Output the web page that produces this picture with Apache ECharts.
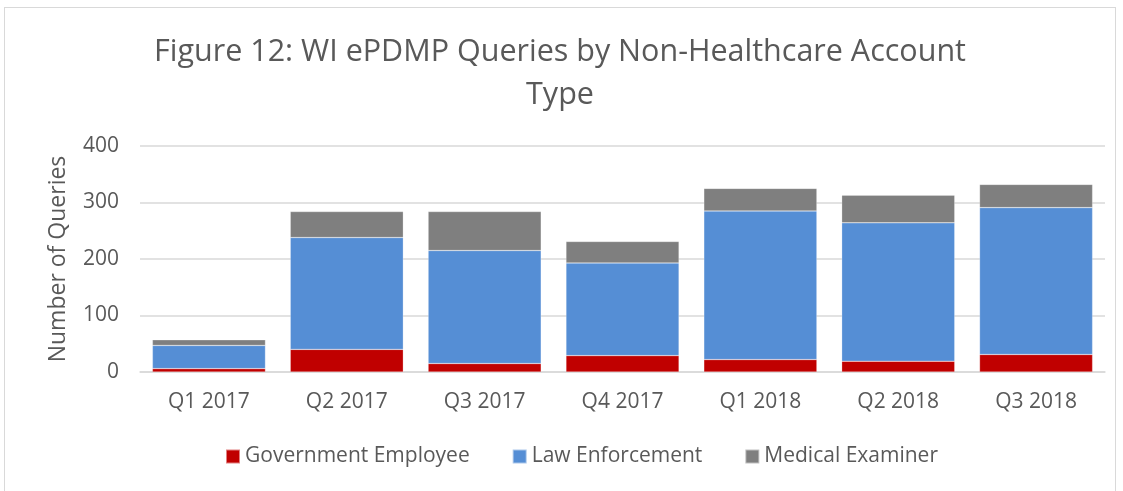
<!DOCTYPE html>
<html>
<head>
<meta charset="utf-8">
<script src="https://cdn.jsdelivr.net/npm/echarts@6/dist/echarts.min.js"></script>
<style>
  html, body { margin: 0; padding: 0; background: #fff; }
  #box { position: absolute; left: 4px; top: 7px; width: 1112px; height: 490px; border: 1px solid #d9d9d9; border-bottom: none; box-sizing: border-box; }
  #chart { position: absolute; left: 0; top: 0; width: 1123px; height: 491px; }
</style>
</head>
<body>
<div id="box"></div>
<div id="chart"></div>
<script>
const quarters = ['Q1 2017', 'Q2 2017', 'Q3 2017', 'Q4 2017', 'Q1 2018', 'Q2 2018', 'Q3 2018']
const govEmployee = [6, 40, 15, 29, 22, 19, 31]
const lawEnforcement = [41, 198, 200, 164, 263, 245, 260]
const medicalExaminer = [10, 46, 69, 38, 40, 49, 41]
const yTicks = [0, 100, 200, 300, 400]

const FONT = '"Open Sans", "Noto Sans", sans-serif'
const TXT = '#595959'

const SRC = [
  { name: 'Government Employee', data: govEmployee, color: '#c00000' },
  { name: 'Law Enforcement', data: lawEnforcement, color: '#558ed5' },
  { name: 'Medical Examiner', data: medicalExaminer, color: '#7f7f7f' },
]

const chart = echarts.init(document.getElementById('chart'))
chart.setOption({
  animation: false,
  textStyle: { fontFamily: FONT },
  title: {
    text: 'Figure 12: WI ePDMP Queries by Non-Healthcare Account\nType',
    left: 555, top: 26, textAlign: 'center',
    textStyle: { fontFamily: FONT, fontSize: 30.5, fontWeight: 'normal', color: TXT, lineHeight: 43 },
  },
  legend: {
    bottom: 19, left: 220, itemWidth: 14, itemHeight: 14, itemGap: 42,
    icon: 'rect',
    textStyle: { fontFamily: FONT, fontSize: 21, color: TXT },
    data: SRC.map(s => s.name),
  },
  grid: { left: 140, right: 18, top: 146, bottom: 119 },
  xAxis: {
    type: 'category', data: quarters,
    axisTick: { show: false },
    axisLine: { lineStyle: { color: '#d9d9d9', width: 1.5 } },
    axisLabel: { fontFamily: FONT, fontSize: 21, color: TXT, margin: 20 },
  },
  yAxis: {
    type: 'value', min: yTicks[0], max: yTicks[yTicks.length - 1], interval: 100,
    name: 'Number of Queries', nameLocation: 'middle', nameGap: 70,
    nameTextStyle: { fontFamily: FONT, fontSize: 23, color: TXT },
    axisLine: { show: false }, axisTick: { show: false },
    axisLabel: { fontFamily: FONT, fontSize: 21, color: TXT, margin: 21 },
    splitLine: { lineStyle: { color: '#d9d9d9', width: 1.5 } },
  },
  series: SRC.map(s => ({
    name: s.name, type: 'bar', stack: 'total', data: s.data,
    barCategoryGap: '18%',
    itemStyle: { color: s.color, borderColor: 'rgba(255,255,255,0.5)', borderWidth: 0.5 },
  })),
})
</script>
</body>
</html>
